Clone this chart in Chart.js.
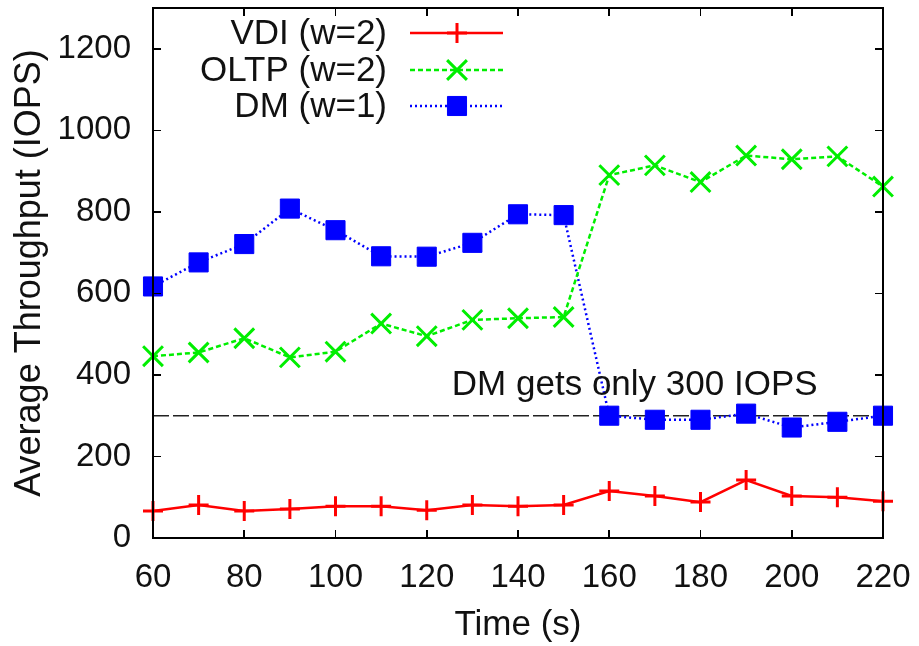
<!DOCTYPE html>
<html>
<head>
<meta charset="utf-8">
<script src="https://cdn.jsdelivr.net/npm/chart.js@4/dist/chart.umd.min.js"></script>
<style>
  html, body { margin: 0; padding: 0; background: #fff; }
  #wrap { position: relative; width: 919px; height: 646px; }
  #c { display: block; }
  .fr { position: absolute; background: #000; pointer-events: none; }
</style>
</head>
<body>
<div id="wrap"><canvas id="c" width="919" height="646"></canvas></div>
<script>
// ---- data ----
const times = [60, 70, 80, 90, 100, 110, 120, 130, 140, 150, 160, 170, 180, 190, 200, 210, 220];
const vdiValues  = [66, 81, 66, 71, 78, 78, 68, 81, 78, 81, 115, 103, 88, 142, 103, 100, 90];
const oltpValues = [446, 455, 490, 443, 457, 526, 495, 535, 539, 542, 890, 914, 873, 938, 929, 936, 862];
const dmValues   = [617, 676, 721, 808, 755, 691, 690, 724, 794, 792, 300, 290, 290, 305, 271, 285, 300];
const seriesLabels = ['VDI (w=2)', 'OLTP (w=2)', 'DM (w=1)'];
const thresholdX = [60, 220];
const thresholdY = [300, 300];
const xTicks = [60, 80, 100, 120, 140, 160, 180, 200, 220];
const yTicks = [0, 200, 400, 600, 800, 1000, 1200];
const xTitle = 'Time (s)';
const yTitle = 'Average Throughput (IOPS)';
const noteText = 'DM gets only 300 IOPS';
const noteX = 125.5;
const noteY = 375;

const FONT = "'Liberation Sans', Arial, Helvetica, sans-serif";
const TEXT = '#111';
const toXY = (xs, ys) => xs.map((x, i) => ({ x: x, y: ys[i] }));

const datasets = [
  { label: seriesLabels[0], data: toXY(times, vdiValues), borderColor: '#ff0000', backgroundColor: '#ff0000',
    borderWidth: 2.5, pointStyle: 'cross', pointRadius: 10, pointBorderWidth: 3, pointHoverRadius: 10,
    clip: false, order: 1 },
  { label: seriesLabels[1], data: toXY(times, oltpValues), borderColor: '#00ee00', backgroundColor: '#00ee00',
    borderWidth: 2.5, borderDash: [5, 3], pointStyle: 'crossRot', pointRadius: 14, pointBorderWidth: 3, pointHoverRadius: 14,
    clip: false, order: 2 },
  { label: seriesLabels[2], data: toXY(times, dmValues), borderColor: '#0000ff', backgroundColor: '#0000ff',
    borderWidth: 2.5, borderDash: [2, 3], pointStyle: 'rect', pointRadius: 13.5, pointBorderWidth: 1, pointHoverRadius: 13.5,
    clip: false, order: 3 },
  { label: 'threshold', data: toXY(thresholdX, thresholdY), borderColor: '#222', backgroundColor: '#222', borderWidth: 1.6,
    borderDash: [16, 4], pointRadius: 0, pointHoverRadius: 0, clip: false, order: 10 }
];

function drawMarker(ctx, style, x, y, r, color, bw) {
  ctx.save();
  ctx.strokeStyle = color; ctx.fillStyle = color; ctx.lineWidth = bw; ctx.setLineDash([]);
  ctx.beginPath();
  if (style === 'cross') {
    ctx.moveTo(x, y - r); ctx.lineTo(x, y + r); ctx.moveTo(x - r, y); ctx.lineTo(x + r, y); ctx.stroke();
  } else if (style === 'crossRot') {
    const o = r * Math.SQRT1_2;
    ctx.moveTo(x - o, y - o); ctx.lineTo(x + o, y + o); ctx.moveTo(x - o, y + o); ctx.lineTo(x + o, y - o); ctx.stroke();
  } else {
    const s = r * Math.SQRT1_2;
    ctx.rect(x - s, y - s, 2 * s, 2 * s); ctx.fill(); ctx.stroke();
  }
  ctx.restore();
}

// Frame + inward ticks as thin overlay strips positioned from the chart's own layout and scales
function buildFrame(chart) {
  const wrap = document.getElementById('wrap');
  wrap.querySelectorAll('.fr').forEach(e => e.remove());
  const a = chart.chartArea, sx = chart.scales.x, sy = chart.scales.y;
  const w = 1.6, tl = 8;
  const add = (l, t, ww, hh) => {
    const d = document.createElement('div');
    d.className = 'fr';
    d.style.left = l + 'px'; d.style.top = t + 'px';
    d.style.width = ww + 'px'; d.style.height = hh + 'px';
    wrap.appendChild(d);
  };
  add(a.left - w / 2, a.top - w / 2, a.right - a.left + w, w);       // top
  add(a.left - w / 2, a.bottom - w / 2, a.right - a.left + w, w);    // bottom
  add(a.left - w / 2, a.top - w / 2, w, a.bottom - a.top + w);       // left
  add(a.right - w / 2, a.top - w / 2, w, a.bottom - a.top + w);      // right
  xTicks.forEach(v => {
    const px = sx.getPixelForValue(v);
    add(px - w / 2, a.bottom - tl, w, tl);
    add(px - w / 2, a.top, w, tl);
  });
  yTicks.forEach(v => {
    const py = sy.getPixelForValue(v);
    add(a.left, py - w / 2, tl, w);
    add(a.right - tl, py - w / 2, tl, w);
  });
}

const decorPlugin = {
  id: 'gnuDecor',
  afterDatasetsDraw(chart) {
    const ctx = chart.ctx, sx = chart.scales.x, sy = chart.scales.y;
    ctx.save();
    ctx.fillStyle = TEXT;
    ctx.font = '35px ' + FONT;
    ctx.textAlign = 'left'; ctx.textBaseline = 'middle';
    ctx.fillText(noteText, sx.getPixelForValue(noteX), sy.getPixelForValue(noteY));
    const rows = [34, 71, 107];
    const textRight = 387, lineStart = 410, lineEnd = 503, markX = 457;
    chart.data.datasets.slice(0, 3).forEach((ds, i) => {
      const y = rows[i];
      ctx.fillStyle = TEXT;
      ctx.textAlign = 'right';
      ctx.fillText(ds.label, textRight, y);
      ctx.strokeStyle = ds.borderColor; ctx.lineWidth = ds.borderWidth;
      ctx.setLineDash(ds.borderDash || []);
      ctx.beginPath(); ctx.moveTo(lineStart, y - 1); ctx.lineTo(lineEnd, y - 1); ctx.stroke();
      drawMarker(ctx, ds.pointStyle, markX, y - 1, ds.pointRadius, ds.borderColor, ds.pointBorderWidth);
    });
    ctx.restore();
  },
  afterRender(chart) { buildFrame(chart); }
};

function zeroPad(s) { s.paddingTop = 0; s.paddingBottom = 0; s.paddingLeft = 0; s.paddingRight = 0; }

const chart = new Chart(document.getElementById('c'), {
  type: 'line',
  data: { datasets: datasets },
  options: {
    responsive: false,
    animation: false,
    devicePixelRatio: 1,
    layout: { padding: { top: 8, right: 36, left: 0, bottom: 0 }, autoPadding: false },
    plugins: { legend: { display: false }, tooltip: { enabled: false } },
    scales: {
      x: {
        type: 'linear', min: 60, max: 220,
        afterBuildTicks: s => { s.ticks = xTicks.map(v => ({ value: v })); },
        afterFit: s => { s.height = 108; zeroPad(s); },
        grid: { display: false, drawTicks: false },
        border: { display: false },
        ticks: { padding: 20, color: TEXT, font: { family: FONT, size: 33 }, maxRotation: 0, autoSkip: false,
                 callback: v => String(v) },
        title: { display: true, text: xTitle, color: TEXT, font: { family: FONT, size: 35 }, padding: { top: 0, bottom: 0 } }
      },
      y: {
        type: 'linear', min: 0, max: 1300,
        afterBuildTicks: s => { s.ticks = yTicks.map(v => ({ value: v })); },
        afterFit: s => { s.width = 153; zeroPad(s); },
        grid: { display: false, drawTicks: false },
        border: { display: false },
        ticks: { padding: 22, color: TEXT, font: { family: FONT, size: 33 }, callback: v => String(v) },
        title: { display: true, text: yTitle, color: TEXT, font: { family: FONT, size: 36 }, padding: { top: 8, bottom: 0 } }
      }
    }
  },
  plugins: [decorPlugin]
});
buildFrame(chart);
</script>
</body>
</html>
